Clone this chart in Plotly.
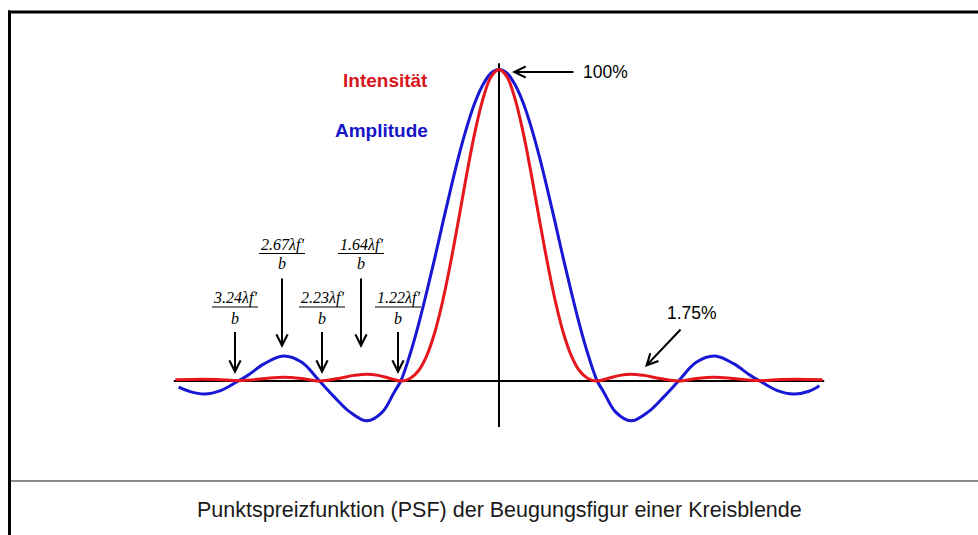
"""Airy pattern PSF: amplitude and intensity of a circular aperture."""
import plotly.graph_objects as go

W, H = 978, 535

# positions in units of lambda*f'/b, values relative to the peak
amp_x = [-3.98, -3.85, -3.66, -3.45, -3.24, -3.1, -2.92, -2.68, -2.45, -2.23, -2.05, -1.85,
         -1.64, -1.45, -1.3, -1.22, -1.1, -1.0, -0.9, -0.8, -0.7, -0.6, -0.5, -0.4, -0.3,
         -0.2, -0.1, 0.0, 0.1, 0.2, 0.3, 0.4, 0.5, 0.6, 0.7, 0.8, 0.9, 1.0, 1.1, 1.22, 1.3,
         1.45, 1.64, 1.85, 2.05, 2.23, 2.45, 2.68, 2.92, 3.1, 3.24, 3.45, 3.66, 3.85, 3.98]
amp_y = [-0.02, -0.033, -0.042, -0.03, 0.0, 0.022, 0.055, 0.08, 0.06, 0.0, -0.05, -0.1,
         -0.128, -0.1, -0.035, 0.0, 0.09, 0.181, 0.284, 0.392, 0.506, 0.617, 0.722, 0.815, 0.893,
         0.951, 0.988, 1.0, 0.988, 0.951, 0.893, 0.815, 0.722, 0.617, 0.506, 0.392, 0.284, 0.181,
         0.09, 0.0, -0.035, -0.1, -0.128, -0.1, -0.05, 0.0, 0.06, 0.08, 0.055, 0.022, 0.0, -0.03,
         -0.042, -0.033, -0.015]

int_x = [-4.02, -3.7, -3.5, -3.24, -3.1, -2.9, -2.68, -2.45, -2.23, -2.0, -1.8, -1.64, -1.5,
         -1.35, -1.22, -1.1, -1.0, -0.9, -0.8, -0.7, -0.6, -0.5, -0.4, -0.3, -0.2, -0.1, 0.0,
         0.1, 0.2, 0.3, 0.4, 0.5, 0.6, 0.7, 0.8, 0.9, 1.0, 1.1, 1.22, 1.35, 1.5, 1.64, 1.8, 2.0,
         2.23, 2.45, 2.68, 2.9, 3.1, 3.24, 3.5, 3.7, 4.02]
int_y = [0.004, 0.006, 0.005, 0.001, 0.003, 0.008, 0.012, 0.008, 0.0, 0.008, 0.018, 0.022,
         0.018, 0.008, 0.0, 0.009, 0.033, 0.08, 0.154, 0.256, 0.381, 0.521, 0.665, 0.798, 0.905,
         0.976, 1.0, 0.976, 0.905, 0.798, 0.665, 0.521, 0.381, 0.256, 0.154, 0.08, 0.033, 0.009,
         0.0, 0.008, 0.018, 0.022, 0.018, 0.008, 0.0, 0.008, 0.012, 0.008, 0.003, 0.001, 0.005,
         0.006, 0.004]

zero_labels = ["3.24", "2.67", "2.23", "1.64", "1.22"]

RED = "#e5161c"
BLUE = "#1717d4"

# pixel mapping of the drawing: origin at (499, 381), 80.5 px per unit in x, 311.5 px per unit in y
X0, Y0, SX, SY = 499, 381, 80.5, 311.5


def px(x):
    return x / W


def py(y):
    return 1 - y / H


def label(x, y, text, font, **kw):
    return dict(x=px(x), y=py(y), xref="paper", yref="paper", text=text, font=font,
                showarrow=False, xanchor="center", yanchor="middle", **kw)


def arrow(x, y, ax, ay):
    return dict(x=px(x), y=py(y), xref="paper", yref="paper", text="", showarrow=True,
                arrowhead=5, arrowsize=1.1, arrowwidth=2, arrowcolor="black",
                ax=ax, ay=ay, standoff=0)


fig = go.Figure()
fig.add_trace(go.Scatter(x=amp_x, y=amp_y, mode="lines", line=dict(color=BLUE, width=3, shape="spline")))
fig.add_trace(go.Scatter(x=int_x, y=int_y, mode="lines", line=dict(color=RED, width=3, shape="spline")))

shapes = [
    # axes
    dict(type="line", xref="x", yref="y", x0=-4.04, x1=4.04, y0=0, y1=0, line=dict(color="black", width=2), layer="below"),
    dict(type="line", xref="x", yref="y", x0=0, x1=0, y0=-0.148, y1=1.02, line=dict(color="black", width=2), layer="below"),
    # frame and caption separator
    dict(type="line", xref="paper", yref="paper", x0=px(9.5), x1=px(9.5), y0=0, y1=py(10.5), line=dict(color="black", width=3)),
    dict(type="line", xref="paper", yref="paper", x0=px(8), x1=1, y0=py(12), y1=py(12), line=dict(color="black", width=3)),
    dict(type="line", xref="paper", yref="paper", x0=px(11), x1=1, y0=py(481), y1=py(481), line=dict(color="#8c8c8c", width=2)),
]

annotations = []
serif = dict(family="Liberation Serif", size=16, color="black")
# fraction labels with arrows: (arrow x px, upper row?)
label_pos = [(235, False), (282, True), (322, False), (361, True), (398, False)]
for lab, (ax_px, high) in zip(zero_labels, label_pos):
    num_y, bar_y, den_y = (245, 253.5, 263) if high else (298, 307, 318)
    tail, head = (277, 348) if high else (330.5, 374)
    annotations.append(label(ax_px, num_y, f"<i>{lab}\u03bbf'</i>", serif))
    annotations.append(label(ax_px, den_y, "<i>b</i>", serif))
    shapes.append(dict(type="line", xref="paper", yref="paper", x0=px(ax_px - 23), x1=px(ax_px + 23),
                       y0=py(bar_y), y1=py(bar_y), line=dict(color="black", width=1)))
    annotations.append(arrow(ax_px, head, 0, -(head - tail)))

sans = dict(family="Liberation Sans", size=17.5, color="black")
annotations += [
    arrow(512, 72, 63, 0),
    label(605, 72, "100%", sans),
    arrow(645, 367, 37, -39),
    label(692, 313, "1.75%", sans),
    label(385, 80, "<b>Intensität</b>", dict(family="Liberation Sans", size=19, color="#d9161c")),
    label(381, 130, "<b>Amplitude</b>", dict(family="Liberation Sans", size=19, color="#1616c8")),
    label(499, 510, "Punktspreizfunktion (PSF) der Beugungsfigur einer Kreisblende",
          dict(family="Liberation Sans", size=21.5, color="#1a1a1a")),
]

fig.update_layout(
    width=W, height=H,
    margin=dict(l=0, r=0, t=0, b=0),
    paper_bgcolor="white", plot_bgcolor="white",
    showlegend=False,
    xaxis=dict(range=[-X0 / SX, (W - X0) / SX], visible=False, fixedrange=True),
    yaxis=dict(range=[(Y0 - H) / SY, Y0 / SY], visible=False, fixedrange=True),
    shapes=shapes,
    annotations=annotations,
)

# the page's default body margin would shift the figure by 8 px
fig.write_html("out.html", config={"displayModeBar": False},
               post_script="document.body.style.margin='0';")
